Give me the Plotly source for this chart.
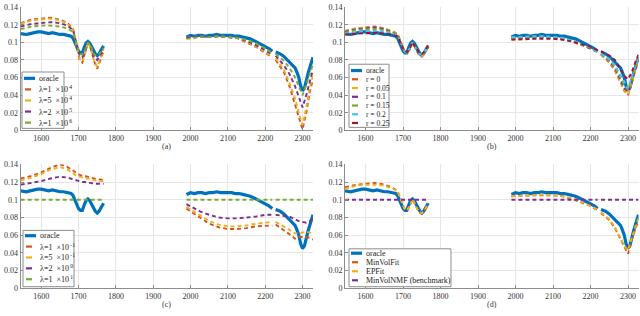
import plotly.graph_objects as go
from plotly.subplots import make_subplots

# ---------------- data ----------------
WL_ORACLE = [1545, 1555, 1560, 1570, 1580, 1590, 1600, 1610, 1620, 1630, 1640, 1650, 1660, 1670,
             1680, 1685, 1690, 1695, 1700, 1705, 1710, 1715, 1720, 1725, 1730, 1735, 1740, 1745,
             1750, 1755, 1760, 1767,
             1780,
             1989, 2000, 2010, 2020, 2030, 2040, 2050, 2060, 2070, 2080, 2090, 2100, 2110, 2120,
             2130, 2140, 2150, 2160, 2170, 2180, 2190, 2200, 2210, 2219,
             2224,
             2228, 2240, 2250, 2260, 2270, 2280, 2285, 2290, 2295, 2300, 2305, 2310, 2315, 2320,
             2325, 2328]
ORACLE = [0.110, 0.109, 0.109, 0.110, 0.111, 0.112, 0.112, 0.111, 0.110, 0.111, 0.110, 0.109, 0.109, 0.108,
          0.107, 0.105, 0.100, 0.094, 0.090, 0.088, 0.088, 0.094, 0.099, 0.101, 0.099, 0.095, 0.090, 0.087,
          0.085, 0.087, 0.091, 0.096,
          None,
          0.106, 0.108, 0.107, 0.108, 0.108, 0.107, 0.108, 0.108, 0.109, 0.108, 0.108, 0.108, 0.108, 0.107,
          0.107, 0.106, 0.105, 0.104, 0.102, 0.100, 0.098, 0.096, 0.093, 0.090,
          None,
          0.089, 0.087, 0.084, 0.080, 0.076, 0.071, 0.066, 0.060, 0.050, 0.045, 0.048, 0.058, 0.065, 0.072,
          0.079, 0.083]

WL_FIT = [1545, 1575, 1600, 1625, 1650, 1670, 1685, 1695, 1703, 1710, 1718, 1725, 1733, 1742, 1750, 1758, 1767,
          1780,
          1989, 2025, 2050, 2075, 2100, 2125, 2150, 2175, 2200, 2219,
          2224,
          2228, 2250, 2265, 2280, 2290, 2300, 2310, 2320, 2328]

# panel (a): lambda sweep (large)
A_L1E4 = [0.122, 0.126, 0.127, 0.128, 0.126, 0.122, 0.116, 0.098, 0.080, 0.077, 0.088, 0.100, 0.092, 0.078, 0.070, 0.080, 0.090,
          None, 0.105, 0.107, 0.106, 0.107, 0.106, 0.105, 0.100, 0.095, 0.088, 0.083,
          None, 0.080, 0.066, 0.050, 0.030, 0.014, 0.001, 0.020, 0.045, 0.058]
A_L5E4 = [0.121, 0.125, 0.126, 0.127, 0.125, 0.121, 0.115, 0.098, 0.081, 0.078, 0.088, 0.100, 0.093, 0.079, 0.072, 0.082, 0.092,
          None, 0.105, 0.107, 0.106, 0.107, 0.106, 0.105, 0.101, 0.096, 0.089, 0.084,
          None, 0.082, 0.069, 0.054, 0.036, 0.020, 0.006, 0.026, 0.050, 0.063]
A_L2E5 = [0.118, 0.121, 0.122, 0.123, 0.122, 0.119, 0.114, 0.099, 0.085, 0.083, 0.090, 0.100, 0.094, 0.083, 0.080, 0.085, 0.093,
          None, 0.105, 0.107, 0.106, 0.107, 0.106, 0.105, 0.102, 0.097, 0.091, 0.086,
          None, 0.085, 0.074, 0.064, 0.050, 0.038, 0.026, 0.040, 0.058, 0.069]
A_L1E6 = [0.115, 0.118, 0.119, 0.119, 0.118, 0.116, 0.112, 0.099, 0.087, 0.086, 0.092, 0.100, 0.095, 0.086, 0.085, 0.088, 0.094,
          None, 0.104, 0.106, 0.106, 0.107, 0.106, 0.105, 0.103, 0.099, 0.093, 0.088,
          None, 0.087, 0.079, 0.071, 0.060, 0.050, 0.040, 0.052, 0.066, 0.075]

# panel (b): r sweep
B_R000 = [0.113, 0.116, 0.117, 0.118, 0.116, 0.113, 0.110, 0.099, 0.090, 0.088, 0.092, 0.100, 0.094, 0.086, 0.084, 0.088, 0.095,
          None, 0.104, 0.105, 0.105, 0.106, 0.105, 0.104, 0.101, 0.097, 0.093, 0.089,
          None, 0.086, 0.077, 0.068, 0.055, 0.045, 0.040, 0.055, 0.070, 0.080]
B_R005 = [0.113, 0.116, 0.117, 0.117, 0.116, 0.113, 0.110, 0.099, 0.090, 0.088, 0.092, 0.100, 0.094, 0.086, 0.084, 0.088, 0.095,
          None, 0.104, 0.105, 0.105, 0.106, 0.105, 0.104, 0.101, 0.097, 0.093, 0.089,
          None, 0.086, 0.078, 0.069, 0.056, 0.046, 0.041, 0.056, 0.071, 0.081]
B_R010 = [0.112, 0.115, 0.116, 0.117, 0.115, 0.112, 0.109, 0.099, 0.090, 0.088, 0.093, 0.100, 0.094, 0.087, 0.085, 0.089, 0.095,
          None, 0.105, 0.106, 0.106, 0.106, 0.105, 0.104, 0.102, 0.098, 0.093, 0.089,
          None, 0.087, 0.079, 0.071, 0.058, 0.048, 0.044, 0.057, 0.072, 0.081]
B_R015 = [0.111, 0.114, 0.115, 0.115, 0.114, 0.111, 0.109, 0.099, 0.090, 0.088, 0.093, 0.100, 0.094, 0.087, 0.085, 0.089, 0.096,
          None, 0.105, 0.106, 0.106, 0.107, 0.106, 0.105, 0.102, 0.098, 0.094, 0.089,
          None, 0.087, 0.080, 0.072, 0.060, 0.051, 0.046, 0.058, 0.072, 0.082]
B_R020 = [0.110, 0.112, 0.113, 0.113, 0.112, 0.110, 0.108, 0.099, 0.090, 0.088, 0.093, 0.100, 0.094, 0.087, 0.086, 0.090, 0.096,
          None, 0.106, 0.107, 0.107, 0.107, 0.106, 0.105, 0.102, 0.098, 0.094, 0.089,
          None, 0.087, 0.081, 0.074, 0.063, 0.055, 0.048, 0.060, 0.073, 0.083]
B_R025 = [0.109, 0.110, 0.111, 0.111, 0.110, 0.109, 0.107, 0.099, 0.091, 0.089, 0.093, 0.100, 0.095, 0.088, 0.087, 0.090, 0.097,
          None, 0.103, 0.104, 0.104, 0.104, 0.104, 0.103, 0.101, 0.098, 0.095, 0.091,
          None, 0.090, 0.085, 0.080, 0.070, 0.062, 0.058, 0.066, 0.078, 0.086]

# panel (c): lambda sweep (small)
C_L1EM1 = [0.124, 0.127, 0.131, 0.136, 0.140, 0.137, 0.133, 0.130, 0.128, 0.127, 0.126, 0.126, 0.125, 0.124, 0.123, 0.123, 0.122,
           None, 0.090, 0.080, 0.073, 0.069, 0.067, 0.067, 0.068, 0.070, 0.071, 0.071,
           None, 0.072, 0.066, 0.061, 0.056, 0.058, 0.058, 0.058, 0.057, 0.055]
C_L5EM1 = [0.122, 0.125, 0.129, 0.134, 0.137, 0.134, 0.130, 0.127, 0.126, 0.125, 0.124, 0.124, 0.123, 0.122, 0.122, 0.121, 0.121,
           None, 0.092, 0.082, 0.076, 0.072, 0.070, 0.070, 0.071, 0.073, 0.074, 0.075,
           None, 0.075, 0.070, 0.066, 0.062, 0.062, 0.063, 0.064, 0.063, 0.060]
C_L2E0 = [0.117, 0.119, 0.121, 0.124, 0.126, 0.125, 0.123, 0.122, 0.121, 0.120, 0.120, 0.119, 0.119, 0.118, 0.118, 0.118, 0.118,
          None, 0.095, 0.087, 0.083, 0.080, 0.079, 0.079, 0.080, 0.081, 0.083, 0.083,
          None, 0.083, 0.082, 0.081, 0.078, 0.076, 0.075, 0.074, 0.076, 0.079]
C_L1E1 = [0.100, 0.100, 0.100, 0.100, 0.100, 0.100, 0.100, 0.100, 0.100, 0.100, 0.100, 0.100, 0.100, 0.100, 0.100, 0.100, 0.100,
          None, 0.100, 0.100, 0.100, 0.100, 0.100, 0.100, 0.100, 0.100, 0.100, 0.100,
          None, 0.100, 0.100, 0.100, 0.100, 0.100, 0.100, 0.100, 0.100, 0.100]

# panel (d): method comparison
D_MINVOLFIT = [0.114, 0.117, 0.118, 0.119, 0.117, 0.114, 0.110, 0.098, 0.090, 0.088, 0.093, 0.101, 0.094, 0.086, 0.084, 0.088, 0.096,
               None, 0.104, 0.105, 0.105, 0.105, 0.105, 0.104, 0.101, 0.097, 0.093, 0.088,
               None, 0.085, 0.077, 0.068, 0.055, 0.046, 0.039, 0.055, 0.068, 0.077]
D_EPFIT = [0.112, 0.116, 0.117, 0.117, 0.116, 0.113, 0.110, 0.099, 0.090, 0.088, 0.093, 0.101, 0.094, 0.086, 0.085, 0.089, 0.096,
           None, 0.104, 0.105, 0.105, 0.105, 0.105, 0.104, 0.102, 0.098, 0.093, 0.089,
           None, 0.086, 0.078, 0.069, 0.057, 0.048, 0.043, 0.057, 0.070, 0.079]
D_MINVOLNMF = [0.100, 0.100, 0.100, 0.100, 0.100, 0.100, 0.100, 0.100, 0.100, 0.100, 0.100, 0.100, 0.100, 0.100, 0.100, 0.100, 0.100,
               None, 0.100, 0.100, 0.100, 0.100, 0.100, 0.100, 0.100, 0.100, 0.100, 0.100,
               None, 0.100, 0.100, 0.100, 0.100, 0.100, 0.100, 0.100, 0.100, 0.100]

X_TICKS = [1600, 1700, 1800, 1900, 2000, 2100, 2200, 2300]
Y_TICKS = [0, 0.02, 0.04, 0.06, 0.08, 0.1, 0.12, 0.14]
Y_TICK_TEXT = ["0", "0.02", "0.04", "0.06", "0.08", "0.1", "0.12", "0.14"]
PANEL_LABELS = ["(a)", "(b)", "(c)", "(d)"]

# ---------------- style ----------------
BLUE = "#0072BD"
RED = "#D95319"
YEL = "#EDB120"
PUR = "#7E2F8E"
GRN = "#77AC30"
CYA = "#4DBEEE"
DRD = "#A2142F"
FONT = "Liberation Serif"
W, H = 640, 316


def px(x):
    return x / W


def py(y):
    return 1 - y / H


panels = [
    dict(series=[("λ=1  ×10<sup> 4</sup>", A_L1E4, RED), ("λ=5  ×10<sup> 4</sup>", A_L5E4, YEL),
                 ("λ=2  ×10<sup> 5</sup>", A_L2E5, PUR), ("λ=1  ×10<sup> 6</sup>", A_L1E6, GRN)],
         xdom=(20.7, 313.0), ydom=(3.3, 130.0),
         leg=dict(box=(22, 70, 64, 128), y0=76.5, dy=11.4, fs=8)),
    dict(series=[("r = 0", B_R000, RED), ("r = 0.05", B_R005, YEL), ("r = 0.1", B_R010, PUR),
                 ("r = 0.15", B_R015, GRN), ("r = 0.2", B_R020, CYA), ("r = 0.25", B_R025, DRD)],
         xdom=(345.0, 638.5), ydom=(3.3, 130.0),
         leg=dict(box=(349, 62, 389, 127), y0=68.5, dy=9.0, fs=7.5)),
    dict(series=[("λ=1  ×10<sup> -1</sup>", C_L1EM1, RED), ("λ=5  ×10<sup> -1</sup>", C_L5EM1, YEL),
                 ("λ=2  ×10<sup> 0</sup>", C_L2E0, PUR), ("λ=1  ×10<sup> 1</sup>", C_L1E1, GRN)],
         xdom=(20.7, 313.0), ydom=(165.0, 292.7),
         leg=dict(box=(23, 233, 74, 291), y0=238.5, dy=11.2, fs=8)),
    dict(series=[("MinVolFit", D_MINVOLFIT, RED), ("EPFit", D_EPFIT, YEL),
                 ("MinVolNMF (benchmark)", D_MINVOLNMF, PUR)],
         xdom=(345.0, 638.5), ydom=(165.0, 292.7),
         leg=dict(box=(349, 252, 451, 291), y0=256.5, dy=9.3, fs=8)),
]

fig = make_subplots(rows=2, cols=2)
shapes = []
annotations = []

for i, p in enumerate(panels):
    r, c = i // 2 + 1, i % 2 + 1
    fig.add_trace(go.Scatter(x=WL_ORACLE, y=ORACLE, mode="lines", name="oracle",
                             line=dict(color=BLUE, width=3.2), showlegend=False), row=r, col=c)
    for name, vals, col in p["series"]:
        fig.add_trace(go.Scatter(x=WL_FIT, y=vals, mode="lines", name=name,
                                 line=dict(color=col, width=1.9, dash="4px,3px"),
                                 showlegend=False), row=r, col=c)
    sfx = "" if i == 0 else str(i + 1)
    x0, x1 = p["xdom"]
    yt, yb = p["ydom"]
    fig.layout["xaxis" + sfx].update(
        domain=[px(x0), px(x1)], range=[1545, 2328], tickvals=X_TICKS,
        showgrid=True, gridcolor="#e6e6e6", gridwidth=1, zeroline=False,
        showline=True, linecolor="#8c8c8c", linewidth=1, ticks="inside", ticklen=3,
        tickcolor="#8c8c8c", tickfont=dict(family=FONT, size=8, color="#333333"))
    fig.layout["yaxis" + sfx].update(
        domain=[py(yb), py(yt)], range=[0, 0.14], tickvals=Y_TICKS, ticktext=Y_TICK_TEXT,
        showgrid=True, gridcolor="#e6e6e6", gridwidth=1, zeroline=False,
        showline=True, linecolor="#8c8c8c", linewidth=1, ticks="inside", ticklen=3,
        tickcolor="#8c8c8c", tickfont=dict(family=FONT, size=8, color="#333333"))
    # panel label
    annotations.append(dict(x=px((x0 + x1) / 2), y=py(yb + 17), xref="paper", yref="paper",
                            text=PANEL_LABELS[i], showarrow=False, xanchor="center", yanchor="middle",
                            font=dict(family=FONT, size=8, color="#333333")))
    # legend box (manual, matlab style)
    bx0, by0, bx1, by1 = p["leg"]["box"]
    shapes.append(dict(type="rect", xref="paper", yref="paper", x0=px(bx0), x1=px(bx1),
                       y0=py(by1), y1=py(by0), fillcolor="white",
                       line=dict(color="#8c8c8c", width=1), layer="above"))
    entries = [("oracle", BLUE, 3.2, 11)] + [(n, col, 2.2, 6) for n, _, col in p["series"]]
    for k, (name, col, lw, ll) in enumerate(entries):
        yy = p["leg"]["y0"] + k * p["leg"]["dy"]
        sx = bx0 + 2
        shapes.append(dict(type="line", xref="paper", yref="paper", x0=px(sx + (0 if ll == 11 else 1)),
                           x1=px(sx + (0 if ll == 11 else 1) + ll), y0=py(yy), y1=py(yy),
                           line=dict(color=col, width=lw), layer="above"))
        annotations.append(dict(x=px(sx + 13), y=py(yy), xref="paper", yref="paper", text=name,
                                showarrow=False, xanchor="left", yanchor="middle",
                                font=dict(family=FONT, size=p["leg"]["fs"], color="#222222")))

fig.update_layout(width=W, height=H, margin=dict(l=0, r=0, t=0, b=0),
                  paper_bgcolor="white", plot_bgcolor="white", showlegend=False,
                  shapes=shapes, annotations=annotations)
fig.write_html("out.html", config={"displayModeBar": False},
               post_script="document.body.style.margin='0';document.body.style.padding='0';"
                           "document.body.style.overflow='hidden';")
